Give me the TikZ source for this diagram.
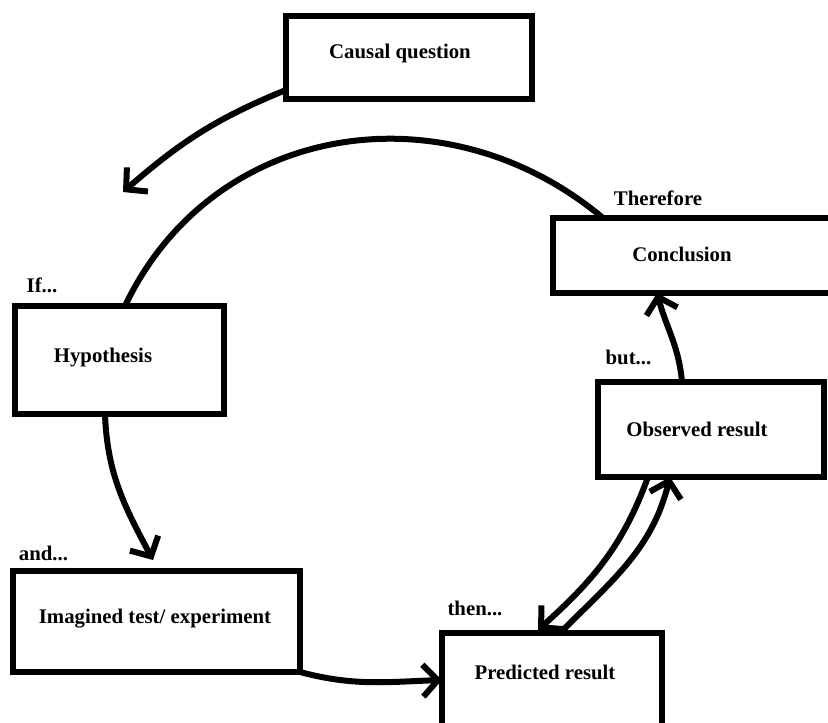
\documentclass[tikz,border=0pt]{standalone}
\usepackage{fontspec}
\setmainfont{Liberation Serif}
\usetikzlibrary{arrows.meta}
\begin{document}
\begin{tikzpicture}[x=1pt,y=1pt,
  box/.style={draw, line width=6pt, rectangle, outer sep=0pt, inner sep=0pt},
  txt/.style={font=\bfseries\fontsize{20.8}{24}\selectfont, text=black},
  conn/.style={line width=6pt},
  arr/.style={conn, -{Straight Barb[length=15pt,width=32pt]}}]
\clip (0,-723) rectangle (828,0);
\fill[white] (0,-723) rectangle (828,0);
% boxes
\node[box, minimum width=246pt, minimum height=83pt,
  label={[txt,xshift=-9pt,yshift=4.5pt]center:Causal question}] (causal) at (409,-57.5) {};
\node[box, minimum width=209pt, minimum height=108pt,
  label={[txt,xshift=-16.5pt,yshift=2pt]center:Hypothesis}] (hyp) at (119.5,-360) {};
\node[box, minimum width=287pt, minimum height=101pt,
  label={[txt,xshift=-1.5pt,yshift=2.5pt]center:Imagined test/ experiment}] (imag) at (156.5,-621.5) {};
\node[box, minimum width=220pt, minimum height=107pt,
  label={[txt,xshift=-7pt,yshift=14.5pt]center:Predicted result}] (pred) at (552,-686.5) {};
\node[box, minimum width=226pt, minimum height=95pt,
  label={[txt,xshift=-14pt,yshift=0pt]center:Observed result}] (obs) at (711,-429.5) {};
\node[box, minimum width=287pt, minimum height=75pt,
  label={[txt,xshift=-14.5pt,yshift=1.5pt]center:Conclusion}] (conc) at (696.5,-255.5) {};
% free labels
\node[txt] (therefore) at (658,-198) {Therefore};
\node[txt] (if) at (42,-285) {If...};
\node[txt] (and) at (43.5,-553) {and...};
\node[txt] (then) at (475,-608) {then...};
\node[txt] (but) at (628.5,-357) {but...};
% connectors
\coordinate (c1end) at (123,-192);
\draw[arr] ([yshift=9pt]causal.south west) to[out=202,in=41] (c1end);
\draw[conn] ([xshift=5.5pt]hyp.north) .. controls +(64.6:205) and +(140:205) .. ([xshift=50pt]conc.north west);
\draw[arr] ([xshift=-14.5pt]hyp.south) to[out=-88,in=118] ([xshift=-3.5pt,yshift=11pt]imag.north);
\draw[arr] (imag.south east) to[out=-15,in=182] ([yshift=6.5pt]pred.west);
\draw[arr] ([xshift=50pt]obs.south west) to[out=250,in=42] ([xshift=-14pt,yshift=3pt]pred.north);
\draw[arr] ([xshift=11pt,yshift=3pt]pred.north) to[out=45,in=256] ([xshift=72pt]obs.south west);
\draw[arr] ([xshift=84pt]obs.north west) to[out=95,in=-75] ([xshift=104pt]conc.south west);
\end{tikzpicture}
\end{document}
